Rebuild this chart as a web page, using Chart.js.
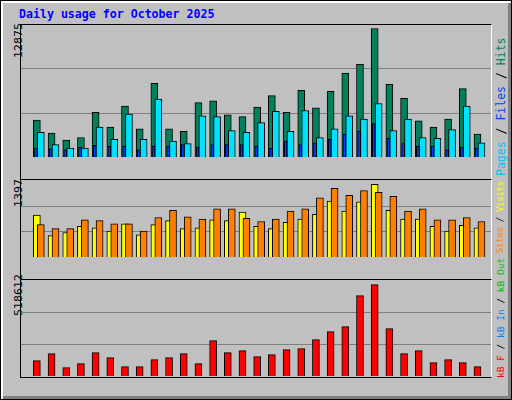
<!DOCTYPE html>
<html><head><meta charset="utf-8">
<script src="https://cdn.jsdelivr.net/npm/chart.js@4/dist/chart.umd.min.js"></script>
<style>
body{margin:0;background:#fff}
#f{position:absolute;left:0;top:0;width:510px;height:398px;background:#c0c0c0;border:1px solid #000;box-shadow:inset 2px 2px 0 #fff,inset -3px -3px 0 #808080}
.t{position:absolute;font-family:"DejaVu Sans Mono",monospace;white-space:nowrap}
.r{transform-origin:0 0;transform:rotate(-90deg)}
.p{position:absolute;border-left:1px solid #000;border-top:1px solid #000;border-right:1px solid #fff;box-sizing:border-box}
canvas{position:absolute}
</style></head><body>
<div id="f"></div>
<div class="t" style="left:19px;top:7px;color:#0000ff;font-weight:bold;font-size:11.6px">Daily usage for October 2025</div>
<div class="t r" style="left:12px;top:58px;font-size:11px;font-family:'DejaVu Sans',sans-serif">12875</div>
<div class="t r" style="left:12px;top:207px;font-size:11px;font-family:'DejaVu Sans',sans-serif">1397</div>
<div class="t r" style="left:12px;top:316px;font-size:11px;font-family:'DejaVu Sans',sans-serif">518612</div>
<div class="t r" style="left:494px;top:176px;font-size:11.5px"><span style="color:#00c0ff">Pages</span> / <span style="color:#0040ff">Files</span> / <span style="color:#008060">Hits</span></div>
<div class="t r" style="left:495px;top:253px;font-size:9px;letter-spacing:-0.3px"><span style="color:#ff8000">Sites</span> / <span style="color:#ffff00">Visits</span></div>
<div class="t r" style="left:495px;top:378px;font-size:9.5px"><span style="color:#ff0000">kB F</span> / <span style="color:#0080ff">kB In</span> / <span style="color:#00c000">kB Out</span></div>
<div class="p" style="left:20px;top:24px;width:472px;height:155px"></div>
<div class="p" style="left:20px;top:179px;width:472px;height:100px"></div>
<div class="p" style="left:20px;top:279px;width:472px;height:99px;border-bottom:1px solid #000"></div>
<canvas id="c1"></canvas><canvas id="c2"></canvas><canvas id="c3"></canvas>
<script>
const days=[1,2,3,4,5,6,7,8,9,10,11,12,13,14,15,16,17,18,19,20,21,22,23,24,25,26,27,28,29,30,31];
const weekend=[4,5,11,12,18,19,25,26];
const hits=[3699,2389,1689,1952,4486,3000,5098,2826,7370,2826,2563,5447,5622,4224,4049,5010,6146,4486,6671,4923,6583,8418,9292,12875,7282,5884,3612,3000,3787,6845,2301];
const files=[2476,1253,903,903,3000,1777,4311,1777,5797,1602,1340,4136,4049,2651,2476,3437,4573,2563,4661,1952,2826,4136,3787,5360,2651,3787,1952,1864,2738,5098,1427];
const pages=[903,816,728,990,1165,1078,1078,728,1078,1078,1253,990,1253,1253,1253,1078,903,1602,1253,1427,1777,2301,2563,3350,1864,1340,1078,1078,728,990,903];
const visits=[805,410,471,592,562,501,638,425,623,699,547,562,714,699,866,592,547,668,729,820,1078,881,1063,1397,896,729,729,592,501,607,562];
const sites=[623,547,547,714,699,638,638,501,759,896,775,729,926,926,744,683,729,881,926,1139,1321,1185,1276,1245,1169,881,926,714,714,759,683];
const kbytes=[87064,126811,47318,70030,132489,104099,52996,52996,92742,104099,126811,70030,200626,132489,143845,109777,121133,149523,155201,206304,251729,280120,456141,518612,268763,126811,143845,75708,92742,75708,52996];
const pts=(arr,off)=>arr.map((v,i)=>({x:days[i]+off,y:v}));
const ds=(arr,off,color,w,order)=>({data:pts(arr,off),backgroundColor:color,borderColor:'#000',borderWidth:1,barThickness:w,grouped:false,order:order});
function mk(id,top,h,max,datasets,showX){
  const c=document.getElementById(id);
  c.width=470;c.height=h;
  c.style.left='21px';c.style.top=top+'px';c.style.width='470px';c.style.height=h+'px';
  new Chart(c,{type:'bar',data:{datasets},options:{responsive:false,maintainAspectRatio:false,animation:false,devicePixelRatio:1,
    layout:{padding:0},plugins:{legend:{display:false},tooltip:{enabled:false}},
    scales:{
      x:{type:'linear',min:0.15,max:31.15,display:showX,grid:{display:false,drawTicks:false},border:{display:false},
         afterFit:s=>{s.height=20},
         ticks:{stepSize:1,autoSkip:false,maxRotation:0,padding:5,font:{family:'DejaVu Sans',size:11},
           color:ctx=>weekend.includes(ctx.tick.value)?'#008060':'#000',callback:v=>days.includes(v)?String(v):''}},
      y:{min:0,max:max,afterFit:s=>{s.width=0},ticks:{display:false,stepSize:max/3},grid:{color:'#808080',drawTicks:false,lineWidth:ctx=>ctx.tick.value>0&&ctx.tick.value<max-1?1:0},border:{display:false}}
    }}});
}
mk('c1',25,152,13223,[ds(hits,-0.27,'#00805c',7,3),ds(pages,-0.33,'#0040ff',3,2),ds(files,0,'#00e0ff',7,1)],false);
mk('c2',181,96,1462,[ds(visits,-0.27,'#ffff00',7,2),ds(sites,0,'#ff8000',7,1)],false);
mk('c3',281,115,539600,[ds(kbytes,-0.27,'#ff0000',7,1)],true);
</script></body></html>
